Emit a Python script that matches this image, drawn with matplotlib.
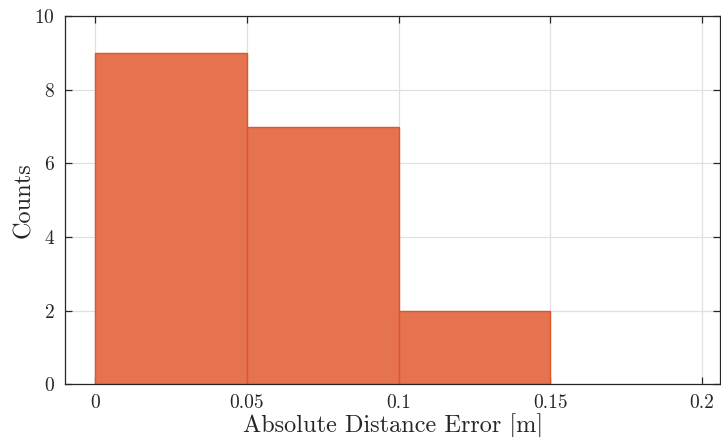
import matplotlib
matplotlib.use('Agg')
import matplotlib.pyplot as plt
import numpy as np

plt.rcParams['font.family'] = 'serif'
plt.rcParams['font.serif'] = ['cmr10', 'DejaVu Serif']
plt.rcParams['axes.formatter.use_mathtext'] = True
plt.rcParams['mathtext.fontset'] = 'cm'

# histogram data
bin_edges = [0.0, 0.05, 0.10, 0.15]
counts = [9, 7, 2]
xtick_vals = [0, 0.05, 0.1, 0.15, 0.2]
xtick_labels = ['0', '0.05', '0.1', '0.15', '0.2']
ytick_vals = [0, 2, 4, 6, 8, 10]

fig = plt.figure(figsize=(7.21, 4.37), dpi=100)
ax = fig.add_axes([0.090, 0.121, 0.909, 0.842])

edges = np.array(bin_edges)
ax.bar(edges[:-1], counts, width=np.diff(edges), align='edge',
       color='#E5734F', edgecolor='#E0532B', linewidth=1.0, zorder=3)

ax.set_xlim(-0.0099, 0.206)
ax.set_ylim(0, 10)
ax.set_xticks(xtick_vals)
ax.set_xticklabels(xtick_labels)
ax.set_yticks(ytick_vals)

ax.grid(True, color='#E0E0E0', linewidth=0.9, zorder=0)
ax.set_axisbelow(True)
ax.tick_params(direction='in', length=5, width=0.9, top=True, right=True,
               labelsize=14, colors='#262626', pad=7)
for s in ax.spines.values():
    s.set_color('#262626')
    s.set_linewidth(0.9)
    s.set_zorder(4)

ax.set_xlabel('Absolute Distance Error [m]', fontsize=17.5, color='#262626', labelpad=1)
ax.set_ylabel('Counts', fontsize=17.5, color='#262626', labelpad=-0.5)

fig.savefig('out.png', dpi=100)
